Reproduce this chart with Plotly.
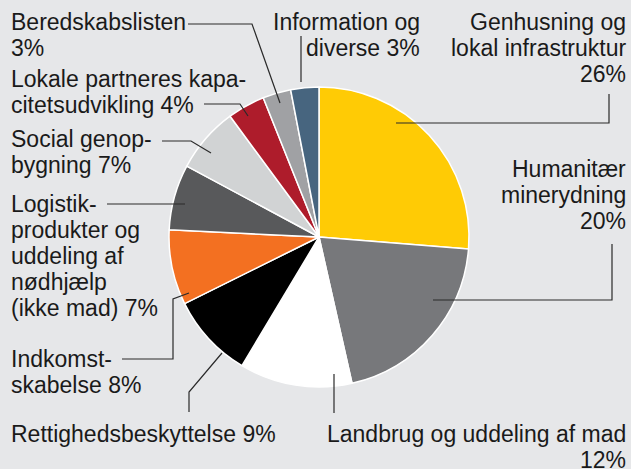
import plotly.graph_objects as go

# ---- data ----
categories = [
    "Genhusning og lokal infrastruktur",
    "Humanitær minerydning",
    "Landbrug og uddeling af mad",
    "Rettighedsbeskyttelse",
    "Indkomstskabelse",
    "Logistikprodukter og uddeling af nødhjælp (ikke mad)",
    "Social genopbygning",
    "Lokale partneres kapacitetsudvikling",
    "Beredskabslisten",
    "Information og diverse",
]
values = [26, 20, 12, 9, 8, 7, 7, 4, 3, 3]
label_lines = [
    ["Genhusning og", "lokal infrastruktur", "26%"],
    ["Humanitær", "minerydning", "20%"],
    ["Landbrug og uddeling af mad", "12%"],
    ["Rettighedsbeskyttelse 9%"],
    ["Indkomst-", "skabelse 8%"],
    ["Logistik-", "produkter og", "uddeling af", "nødhjælp", "(ikke mad) 7%"],
    ["Social genop-", "bygning 7%"],
    ["Lokale partneres kapa-", "citetsudvikling 4%"],
    ["Beredskabslisten", "3%"],
    ["Information og", "diverse 3%"],
]

# ---- style ----
colors = ["#FFCB05", "#77787B", "#FFFFFF", "#000000", "#F37021",
          "#58595B", "#D1D3D4", "#AE1C2B", "#A0A1A4", "#47657F"]
W, H = 631, 469
BG = "#E6E7E9"
TXT = "#1A1A1A"
FONT = "Liberation Sans, Arial, sans-serif"
FS = 23
LINE_GAP = 26

# label placement (pixels): x, xanchor, first baseline
label_pos = [
    (627, "right", 30),
    (627, "right", 177),
    (627, "right", 442),
    (10, "left", 442),
    (10, "left", 367),
    (10, "left", 211.5),
    (10, "left", 147),
    (10, "left", 86.5),
    (10, "left", 30),
    (421, "right", 30),
]

# leader lines (pixels)
leaders = [
    [(396, 123), (609, 123), (609, 94)],
    [(433, 300), (612, 300), (612, 244)],
    [(334, 374), (334, 413)],
    [(222, 353), (189, 392), (189, 412)],
    [(189, 293), (173, 299), (173, 359), (122, 359)],
    [(185, 204), (107, 204)],
    [(211, 153), (191, 141), (162, 141)],
    [(248, 116), (240, 104), (204, 104)],
    [(280, 103), (252, 24), (188, 24)],
    [(301, 82), (301, 36)],
]

cx, cy, r = 319, 237, 150


def px(x):
    return x / W


def py(y):
    return 1 - y / H


fig = go.Figure()
fig.add_trace(go.Pie(
    labels=categories,
    values=values,
    sort=False,
    direction="clockwise",
    rotation=0,
    marker=dict(colors=colors, line=dict(color="#FFFFFF", width=1.5)),
    textinfo="none",
    hoverinfo="label+percent",
    showlegend=False,
    domain=dict(x=[px(cx - r), px(cx + r)], y=[py(cy + r), py(cy - r)]),
))

annotations = []
for lines, (x, xa, b0) in zip(label_lines, label_pos):
    for i, line in enumerate(lines):
        base = b0 + i * LINE_GAP
        annotations.append(dict(
            text=line, x=px(x), y=py(base - 0.33 * FS), xref="paper", yref="paper",
            xanchor=xa, yanchor="middle", align=xa, showarrow=False,
            borderpad=0, font=dict(family=FONT, size=FS, color=TXT),
        ))

shapes = []
for pts in leaders:
    path = "M " + " L ".join(f"{px(x)},{py(y)}" for x, y in pts)
    shapes.append(dict(type="path", path=path, xref="paper", yref="paper",
                       line=dict(color="#2A2A2A", width=1.2)))

fig.update_layout(
    width=W, height=H,
    margin=dict(l=0, r=0, t=0, b=0),
    paper_bgcolor=BG, plot_bgcolor=BG,
    annotations=annotations,
    shapes=shapes,
)

fig.write_html("out.html", config={"displayModeBar": False},
               post_script="document.body.style.margin='0';")
